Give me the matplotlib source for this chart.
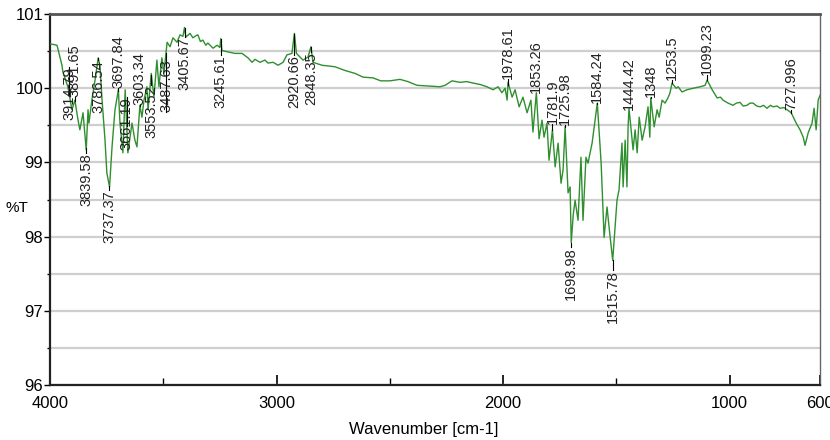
import matplotlib
matplotlib.use("Agg")
import matplotlib.pyplot as plt
import numpy as np
from matplotlib.ticker import MultipleLocator

# espectro FTIR (numero de onda cm-1, %T)
wavenumber = [4000, 3969, 3947, 3943, 3921, 3903, 3890, 3876, 3868, 3854, 3840, 3832, 3828, 3815,
              3801, 3787, 3779, 3770, 3757, 3749, 3737, 3726, 3713, 3698, 3691, 3678, 3668, 3656,
              3638, 3625, 3616, 3603, 3594, 3585, 3572, 3567, 3553, 3541, 3528, 3519, 3506, 3497,
              3483, 3470, 3457, 3439, 3426, 3413, 3406, 3400, 3382, 3369, 3355, 3347, 3336, 3325,
              3312, 3303, 3280, 3262, 3250, 3246, 3241, 3214, 3183, 3152, 3126, 3108, 3095, 3073,
              3051, 3038, 3015, 2993, 2971, 2954, 2932, 2921, 2912, 2883, 2861, 2848, 2839, 2799,
              2742, 2698, 2653, 2618, 2574, 2540, 2499, 2455, 2420, 2380, 2330, 2278, 2256, 2225,
              2190, 2160, 2132, 2100, 2071, 2044, 2022, 2005, 1991, 1982, 1978, 1960, 1947, 1929,
              1912, 1894, 1877, 1868, 1853, 1841, 1828, 1819, 1806, 1797, 1782, 1770, 1757, 1744,
              1735, 1726, 1713, 1704, 1699, 1690, 1682, 1669, 1656, 1647, 1634, 1625, 1607, 1594,
              1584, 1567, 1554, 1541, 1532, 1516, 1497, 1488, 1475, 1470, 1461, 1453, 1448, 1444,
              1426, 1417, 1408, 1399, 1386, 1373, 1360, 1352, 1348, 1333, 1320, 1311, 1298, 1285,
              1272, 1263, 1254, 1236, 1227, 1210, 1188, 1161, 1130, 1108, 1099, 1077, 1055, 1040,
              1029, 1007, 985, 970, 954, 940, 923, 910, 896, 880, 865, 850, 835, 820,
              808, 790, 777, 760, 746, 728, 706, 689, 675, 667, 653, 636, 627, 618,
              609, 600]
transmitancia = [100.60, 100.58, 100.31, 100.22, 100.02, 99.71, 99.84, 99.57, 99.44, 99.67, 99.17, 99.71, 99.53, 99.84,
                 100.11, 100.41, 100.29, 99.84, 99.30, 98.86, 98.67, 99.21, 99.71, 99.98, 99.53, 99.13, 99.98, 99.13,
                 99.53, 99.30, 99.21, 99.77, 99.61, 99.84, 100.02, 99.71, 100.20, 99.88, 100.38, 100.02, 100.41, 100.20,
                 100.62, 100.56, 100.68, 100.62, 100.72, 100.70, 100.82, 100.69, 100.74, 100.68, 100.71, 100.72, 100.63, 100.65,
                 100.58, 100.61, 100.54, 100.58, 100.55, 100.67, 100.51, 100.49, 100.47, 100.47, 100.41, 100.35, 100.39, 100.35,
                 100.38, 100.34, 100.35, 100.31, 100.35, 100.45, 100.47, 100.74, 100.47, 100.38, 100.42, 100.56, 100.35, 100.31,
                 100.29, 100.24, 100.20, 100.15, 100.14, 100.10, 100.10, 100.12, 100.09, 100.04, 100.03, 100.02, 100.04, 100.10,
                 100.08, 100.09, 100.07, 100.05, 100.02, 99.98, 100.02, 99.94, 100.00, 99.84, 100.08, 99.88, 99.98, 99.75,
                 99.88, 99.67, 99.84, 99.41, 99.94, 99.32, 99.57, 99.34, 99.53, 99.03, 99.44, 98.94, 99.26, 98.72,
                 98.90, 99.48, 98.59, 98.67, 97.92, 98.30, 98.49, 98.22, 99.07, 98.22, 99.07, 98.99, 99.26, 99.57,
                 99.80, 98.99, 97.99, 98.40, 98.13, 97.68, 98.49, 98.63, 99.26, 98.67, 99.30, 98.67, 99.48, 99.73,
                 99.17, 99.44, 99.13, 99.61, 99.30, 99.48, 99.75, 99.34, 99.87, 99.48, 99.71, 99.61, 99.84, 99.80,
                 99.87, 99.94, 100.07, 100.00, 100.02, 99.95, 99.98, 100.00, 100.02, 100.04, 100.11, 99.98, 99.87, 99.88,
                 99.84, 99.80, 99.77, 99.80, 99.81, 99.76, 99.77, 99.80, 99.80, 99.76, 99.75, 99.77, 99.73, 99.77,
                 99.75, 99.76, 99.73, 99.74, 99.71, 99.67, 99.53, 99.44, 99.34, 99.23, 99.40, 99.53, 99.73, 99.44,
                 99.84, 99.91]

# picos marcados
picos_wn = [3914.79, 3891.65, 3839.58, 3786.54, 3737.37, 3697.84, 3661.19, 3603.34, 3553.52, 3487.63,
            3405.67, 3245.61, 2920.66, 2848.35, 1978.61, 1853.26, 1781.9, 1725.98, 1698.98, 1584.24,
            1515.78, 1444.42, 1348, 1253.5, 1099.23, 727.996]
picos_txt = ["3914.79", "3891.65", "3839.58", "3786.54", "3737.37", "3697.84", "3661.19", "3603.34",
             "3553.52", "3487.63", "3405.67", "3245.61", "2920.66", "2848.35", "1978.61", "1853.26",
             "1781.9", "1725.98", "1698.98", "1584.24", "1515.78", "1444.42", "1348", "1253.5",
             "1099.23", "727.996"]
picos_lado = ["abajo", "arriba", "abajo", "abajo", "abajo", "arriba", "abajo", "arriba", "abajo", "arriba",
              "abajo", "abajo", "abajo", "abajo", "arriba", "arriba", "arriba", "arriba", "abajo", "arriba",
              "abajo", "arriba", "arriba", "arriba", "arriba", "arriba"]
# borde del texto mas cercano al pico (en %T)
picos_borde = [100.29, 99.88, 99.13, 100.38, 98.63, 100.00, 99.88, 99.77, 100.04, 99.68,
               100.69, 100.45, 100.45, 100.49, 100.12, 99.94, 99.52, 99.50, 97.86, 99.80,
               97.55, 99.71, 99.88, 100.11, 100.18, 99.71]

plt.rcParams['font.family'] = ['Liberation Sans', 'DejaVu Sans']

fig = plt.figure(figsize=(8.3, 4.4), dpi=100)
ax = fig.add_axes([0.0602, 0.125, 0.928, 0.843])

ax.plot(wavenumber, transmitancia, color='#2f8f2f', linewidth=1.0, zorder=3)

wn_arr = np.array(wavenumber[::-1], dtype=float)
t_arr = np.array(transmitancia[::-1], dtype=float)
for wn, txt, lado, borde in zip(picos_wn, picos_txt, picos_lado, picos_borde):
    t_pico = np.interp(wn, wn_arr, t_arr)
    ax.plot([wn, wn], [t_pico, borde], color='black', linewidth=0.8, zorder=4)
    ax.text(wn, borde, txt, rotation=90, ha='center',
            va='top' if lado == 'abajo' else 'bottom',
            fontsize=10.5, color='#222222', zorder=5)

ax.set_xlim(4000, 600)
ax.set_ylim(96, 101)
ax.set_xticks([4000, 3000, 2000, 1000, 600])
ax.xaxis.set_minor_locator(MultipleLocator(500))
ax.set_yticks([96, 97, 98, 99, 100, 101])
ax.yaxis.set_minor_locator(MultipleLocator(0.5))
ax.grid(axis='y', which='both', color='#cfcfcf', linewidth=1.6, zorder=0)
ax.set_axisbelow(True)

ax.tick_params(axis='x', which='major', direction='in', length=7, width=1.2, labelsize=12, pad=8)
ax.tick_params(axis='x', which='minor', direction='in', length=5, width=1.0)
ax.tick_params(axis='y', which='major', direction='out', length=4, width=1.0, labelsize=12, pad=1)
ax.tick_params(axis='y', which='minor', direction='out', length=2, width=1.0)

for lado in ['left', 'bottom']:
    ax.spines[lado].set_linewidth(1.6)
    ax.spines[lado].set_color('#222222')
ax.spines['top'].set_linewidth(2.0)
ax.spines['top'].set_color('#555555')
ax.spines['right'].set_linewidth(1.0)
ax.spines['right'].set_color('#666666')

ax.set_xlabel('Wavenumber [cm-1]', fontsize=12)
ax.xaxis.set_label_coords(0.485, -0.10)
ax.set_ylabel('%T', rotation=0, fontsize=11, va='center', ha='center')
ax.yaxis.set_label_coords(-0.043, 0.477)

fig.savefig('out.png', dpi=100)
